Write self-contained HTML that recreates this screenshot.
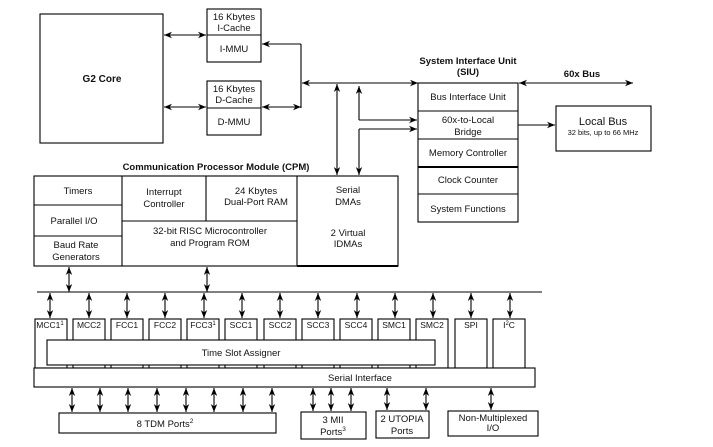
<!DOCTYPE html>
<html><head><meta charset="utf-8"><style>
html,body{margin:0;padding:0;background:#fff}
svg text{font-family:"Liberation Sans",Arial,sans-serif;fill:#111}
</style></head><body>
<svg width="713" height="442" viewBox="0 0 713 442" xmlns="http://www.w3.org/2000/svg">
<defs>
<marker id="a" viewBox="0 0 10 10" refX="10" refY="5" markerWidth="9" markerHeight="8" orient="auto-start-reverse" markerUnits="userSpaceOnUse"><path d="M0,1 L10,5 L0,9 L3,5 z" fill="#000"/></marker>
</defs>
<g fill="none" stroke="#000" stroke-width="1.1">
<rect x="40" y="14" width="123" height="129"/>
<rect x="207" y="9" width="54" height="53"/><line x1="207" y1="35" x2="261" y2="35"/>
<rect x="207" y="81" width="54" height="54"/><line x1="207" y1="108" x2="261" y2="108"/>
<line x1="164" y1="35" x2="206" y2="35" marker-start="url(#a)" marker-end="url(#a)"/>
<line x1="164" y1="107" x2="206" y2="107" marker-start="url(#a)" marker-end="url(#a)"/>
<line x1="262" y1="44" x2="301" y2="44" marker-start="url(#a)"/>
<line x1="262" y1="107" x2="301" y2="107" marker-start="url(#a)" marker-end="url(#a)"/>
<line x1="301" y1="44" x2="301" y2="108"/>
<line x1="302" y1="83" x2="418" y2="83" marker-start="url(#a)" marker-end="url(#a)"/>
<rect x="418" y="83" width="100" height="139"/>
<line x1="418" y1="111" x2="518" y2="111"/>
<line x1="418" y1="139" x2="518" y2="139"/>
<line x1="418" y1="167" x2="518" y2="167" stroke-width="2"/>
<line x1="418" y1="194" x2="518" y2="194"/>
<line x1="519" y1="83" x2="633" y2="83" marker-start="url(#a)" marker-end="url(#a)"/>
<rect x="556" y="106" width="95" height="45"/>
<line x1="518" y1="125" x2="555" y2="125" marker-end="url(#a)"/>
<line x1="337" y1="84" x2="337" y2="175" marker-start="url(#a)" marker-end="url(#a)"/>
<line x1="359" y1="86" x2="359" y2="120" marker-start="url(#a)"/>
<line x1="359" y1="120" x2="417" y2="120" marker-end="url(#a)"/>
<line x1="359" y1="129" x2="359" y2="175" marker-end="url(#a)"/>
<line x1="359" y1="129" x2="417" y2="129" marker-end="url(#a)"/>
<rect x="34" y="176" width="364" height="90"/>
<line x1="122" y1="176" x2="122" y2="266"/>
<line x1="34" y1="205" x2="122" y2="205"/>
<line x1="34" y1="236" x2="122" y2="236"/>
<line x1="206" y1="176" x2="206" y2="221"/>
<line x1="122" y1="221" x2="297" y2="221"/>
<line x1="297" y1="176" x2="297" y2="266"/>
<line x1="297" y1="266" x2="398" y2="266" stroke-width="2"/>
<line x1="69" y1="267" x2="69" y2="292" marker-start="url(#a)" marker-end="url(#a)"/>
<line x1="207" y1="267" x2="207" y2="292" marker-start="url(#a)" marker-end="url(#a)"/>
<line x1="37" y1="292" x2="542" y2="292"/>
<g>
<rect x="35" y="319" width="32" height="49"/>
<rect x="73" y="319" width="32" height="49"/>
<rect x="111" y="319" width="32" height="49"/>
<rect x="149" y="319" width="32" height="49"/>
<rect x="187" y="319" width="32" height="49"/>
<rect x="225" y="319" width="32" height="49"/>
<rect x="264" y="319" width="32" height="49"/>
<rect x="302" y="319" width="32" height="49"/>
<rect x="340" y="319" width="32" height="49"/>
<rect x="378" y="319" width="32" height="49"/>
<rect x="416" y="319" width="32" height="49"/>
<rect x="455" y="319" width="32" height="49"/>
<rect x="493" y="319" width="32" height="49"/>
</g>
<g marker-start="url(#a)" marker-end="url(#a)">
<line x1="50" y1="293" x2="50" y2="318"/>
<line x1="89" y1="293" x2="89" y2="318"/>
<line x1="127" y1="293" x2="127" y2="318"/>
<line x1="165" y1="293" x2="165" y2="318"/>
<line x1="204" y1="293" x2="204" y2="318"/>
<line x1="242" y1="293" x2="242" y2="318"/>
<line x1="280" y1="293" x2="280" y2="318"/>
<line x1="318" y1="293" x2="318" y2="318"/>
<line x1="357" y1="293" x2="357" y2="318"/>
<line x1="395" y1="293" x2="395" y2="318"/>
<line x1="433" y1="293" x2="433" y2="318"/>
<line x1="471" y1="293" x2="471" y2="318"/>
<line x1="510" y1="293" x2="510" y2="318"/>
</g>
<rect x="47" y="340" width="388" height="25" fill="#fff"/>
<rect x="34" y="368" width="501" height="19" fill="#fff"/>
<g marker-start="url(#a)" marker-end="url(#a)">
<line x1="72" y1="388" x2="72" y2="412"/>
<line x1="100" y1="388" x2="100" y2="412"/>
<line x1="128" y1="388" x2="128" y2="412"/>
<line x1="157" y1="388" x2="157" y2="412"/>
<line x1="186" y1="388" x2="186" y2="412"/>
<line x1="214" y1="388" x2="214" y2="412"/>
<line x1="243" y1="388" x2="243" y2="412"/>
<line x1="272" y1="388" x2="272" y2="412"/>
<line x1="313" y1="388" x2="313" y2="411"/>
<line x1="331" y1="388" x2="331" y2="411"/>
<line x1="351" y1="388" x2="351" y2="411"/>
<line x1="387" y1="388" x2="387" y2="410"/>
<line x1="426" y1="388" x2="426" y2="410"/>
<line x1="491" y1="388" x2="491" y2="410"/>
</g>
<rect x="59" y="413" width="217" height="20"/>
<rect x="301" y="412" width="65" height="27"/>
<rect x="376" y="411" width="53" height="27"/>
<rect x="448" y="411" width="90" height="25"/>
</g>
<g font-size="9.5" text-anchor="middle">
<text x="102" y="82" font-weight="bold" font-size="10">G2 Core</text>
<text x="234" y="20">16 Kbytes</text><text x="234" y="31">I-Cache</text>
<text x="234" y="52">I-MMU</text>
<text x="234" y="92">16 Kbytes</text><text x="234" y="103">D-Cache</text>
<text x="234" y="125">D-MMU</text>
<text x="468" y="64" font-weight="bold">System Interface Unit</text>
<text x="468" y="75" font-weight="bold">(SIU)</text>
<text x="582" y="77" font-weight="bold">60x Bus</text>
<text x="468" y="100">Bus Interface Unit</text>
<text x="468" y="123">60x-to-Local</text><text x="468" y="135">Bridge</text>
<text x="468" y="156">Memory Controller</text>
<text x="468" y="183">Clock Counter</text>
<text x="468" y="212">System Functions</text>
<text x="603" y="125" font-size="11">Local Bus</text>
<text x="603" y="135" font-size="7.5">32 bits, up to 66 MHz</text>
<text x="216" y="170" font-weight="bold">Communication Processor Module (CPM)</text>
<text x="78" y="194">Timers</text>
<text x="74" y="224">Parallel I/O</text>
<text x="76" y="248">Baud Rate</text><text x="76" y="260">Generators</text>
<text x="164" y="195">Interrupt</text><text x="164" y="207">Controller</text>
<text x="256" y="194">24 Kbytes</text><text x="256" y="205">Dual-Port RAM</text>
<text x="210" y="234">32-bit RISC Microcontroller</text><text x="210" y="246">and Program ROM</text>
<text x="348" y="193">Serial</text><text x="348" y="205">DMAs</text>
<text x="348" y="236">2 Virtual</text><text x="348" y="247">IDMAs</text>
<g font-size="8.5">
<text x="50" y="328">MCC1<tspan font-size="6" dy="-3">1</tspan></text>
<text x="89" y="328">MCC2</text>
<text x="127" y="328">FCC1</text>
<text x="165" y="328">FCC2</text>
<text x="203" y="328">FCC3<tspan font-size="6" dy="-3">1</tspan></text>
<text x="241" y="328">SCC1</text>
<text x="280" y="328">SCC2</text>
<text x="318" y="328">SCC3</text>
<text x="356" y="328">SCC4</text>
<text x="394" y="328">SMC1</text>
<text x="432" y="328">SMC2</text>
<text x="471" y="328">SPI</text>
<text x="509" y="328">I<tspan font-size="6" dy="-3">2</tspan><tspan dy="3">C</tspan></text>
</g>
<text x="241" y="356">Time Slot Assigner</text>
<text x="360" y="381">Serial Interface</text>
<text x="165" y="427">8 TDM Ports<tspan font-size="6.5" dy="-4">2</tspan></text>
<text x="333" y="423">3 MII</text><text x="333" y="435">Ports<tspan font-size="6.5" dy="-4">3</tspan></text>
<text x="402" y="422">2 UTOPIA</text><text x="402" y="434">Ports</text>
<text x="493" y="421">Non-Multiplexed</text><text x="493" y="431">I/O</text>
</g>
</svg>
</body></html>
